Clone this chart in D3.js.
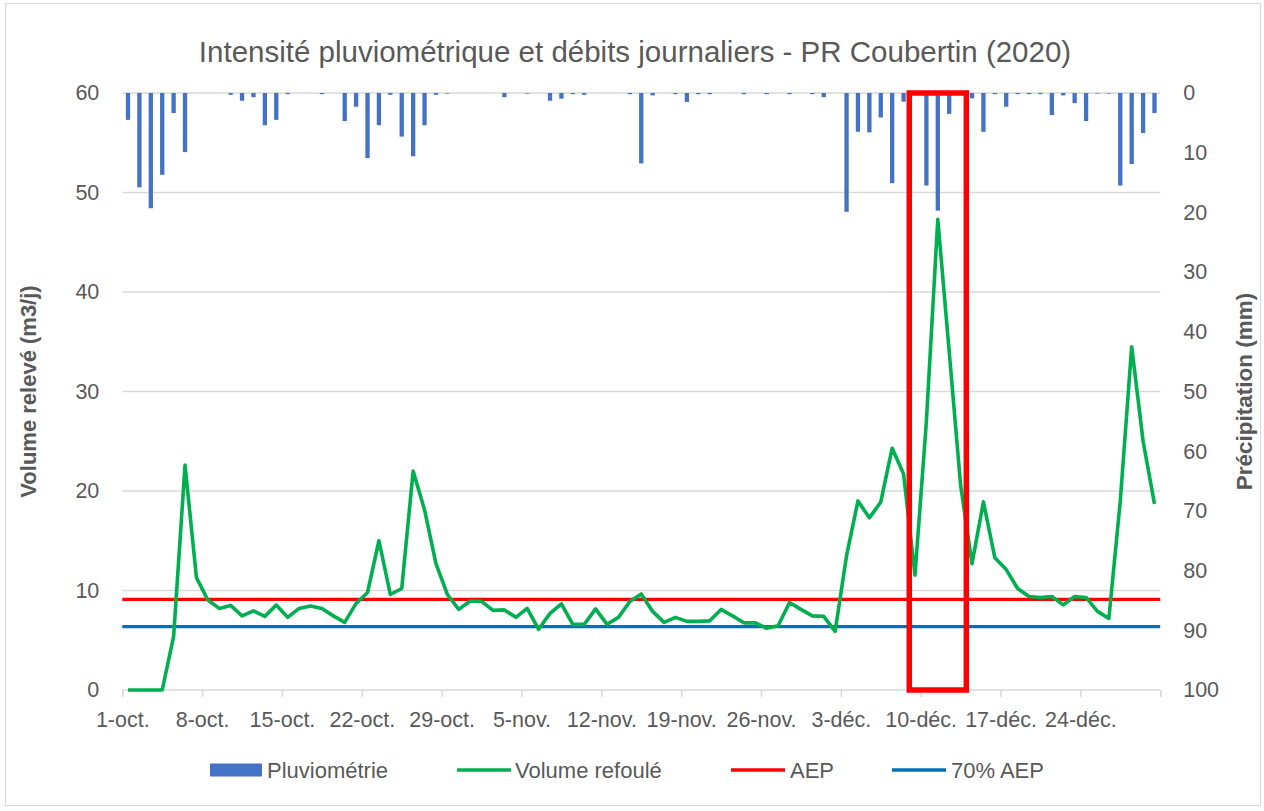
<!DOCTYPE html>
<html><head><meta charset="utf-8">
<script src="https://cdn.jsdelivr.net/npm/d3@7"></script>
<style>
html,body{margin:0;padding:0;background:#fff;}
svg{display:block;font-family:"Liberation Sans",Arial,sans-serif;}
</style></head>
<body><svg id="c" width="1264" height="811"></svg>
<script>
// ---------- DATA ----------
const startDate = "2020-10-01";
const dayCount = 91; // 1-oct. .. 30-déc.
const axisEnd = "2020-12-31";
const rainfall = [4.5,15.8,19.3,13.7,3.35,9.9,0,0,0,0.3,
  1.3,0.7,5.4,4.5,0.2,0,0,0.2,0,4.7,
  2.3,10.9,5.4,0.3,7.3,10.6,5.4,0.3,0.1,0,
  0,0,0,0.7,0,0.1,0,1.3,0.95,0.2,
  0.3,0,0,0,0.2,11.8,0.4,0,0.2,1.5,
  0.2,0.2,0,0,0.2,0,0.2,0,0.2,0,
  0.2,0.7,0,19.9,6.5,6.6,4.1,15.1,1.45,0,
  15.5,19.7,3.5,0,0.9,6.5,0.2,2.3,0.2,0.2,
  0.2,3.7,0.4,1.7,4.7,0.1,0.1,15.5,11.9,6.7,3.35];
const volume = [0,0,0,0,5.4,22.6,11.3,9.05,8.2,8.5,
  7.45,7.95,7.4,8.55,7.3,8.2,8.45,8.2,7.45,6.8,
  8.7,9.8,15.0,9.6,10.2,22.0,18.1,12.7,9.6,8.1,
  8.95,8.9,8.0,8.05,7.3,8.2,6.1,7.7,8.65,6.6,
  6.6,8.15,6.6,7.3,8.9,9.65,7.9,6.8,7.3,6.9,
  6.9,6.95,8.1,7.45,6.75,6.75,6.2,6.45,8.8,8.1,
  7.45,7.4,5.9,13.5,19.0,17.3,18.9,24.3,21.7,11.55,
  27.0,47.3,34.0,20.6,12.7,18.9,13.3,12.1,10.2,9.4,
  9.3,9.4,8.55,9.4,9.3,7.9,7.2,19.0,34.5,25.0,18.7];
const aep = 9.1;
const aep70 = 6.37;
const highlightStart = "2020-12-09";
const highlightEnd = "2020-12-14";
const xTickLabels = ["1-oct.","8-oct.","15-oct.","22-oct.","29-oct.","5-nov.","12-nov.","19-nov.","26-nov.","3-déc.","10-déc.","17-déc.","24-déc."];
const leftTicks = [0,10,20,30,40,50,60];
const rightTicks = [0,10,20,30,40,50,60,70,80,90,100];
const seriesNames = ["Pluviométrie","Volume refoulé","AEP","70% AEP"];
const titleText = "Intensité pluviométrique et débits journaliers - PR Coubertin (2020)";
const leftTitle = "Volume relevé (m3/j)";
const rightTitle = "Précipitation (mm)";

// ---------- LAYOUT ----------
const L = 122.3, R = 1160.2, T = 93, B = 690;
const colors = {bar:"#4472C4", vol:"#00B050", aep:"#FF0000", aep70:"#0070C0", grid:"#D9D9D9", text:"#595959"};
const FONT = "Liberation Sans, Arial, sans-serif";

const parse = d3.utcParse("%Y-%m-%d");
const t0 = parse(startDate);
const dates = d3.utcDay.range(t0, d3.utcDay.offset(t0, dayCount));
const x = d3.scaleUtc().domain([t0, parse(axisEnd)]).range([L, R]);
const xc = d => x(d3.utcHour.offset(d, 12));
const yL = d3.scaleLinear().domain([0, 60]).range([B, T]);
const yR = d3.scaleLinear().domain([0, 100]).range([T, B]);

const svg = d3.select("#c");
svg.append("rect").attr("x",5.5).attr("y",3.5).attr("width",1255).attr("height",802)
  .attr("fill","#fff").attr("stroke","#D9D9D9").attr("stroke-width",1.2);

// title
svg.append("text").attr("x",635).attr("y",62).attr("text-anchor","middle")
  .attr("font-size",29.5).attr("fill",colors.text).text(titleText);

// gridlines
svg.append("g").selectAll("line").data(leftTicks).join("line")
  .attr("x1",L).attr("x2",R).attr("y1",d=>yL(d)).attr("y2",d=>yL(d))
  .attr("stroke",colors.grid).attr("stroke-width",1.5);

// x axis ticks
const tickDates = d3.utcDay.range(t0, d3.utcDay.offset(parse(axisEnd),1), 7).concat([parse(axisEnd)]);
const xAxis = d3.axisBottom(x).tickValues(tickDates).tickSize(7).tickPadding(15)
  .tickFormat((d,i)=> xTickLabels[i] || "");
const gx = svg.append("g").attr("transform",`translate(0,${B})`).call(xAxis);
gx.select(".domain").remove();
gx.selectAll(".tick line").attr("stroke",colors.grid).attr("stroke-width",1.5);
gx.selectAll(".tick text").attr("fill",colors.text).attr("font-size",21.5).attr("font-family",FONT);

// left axis
const gl = svg.append("g").attr("transform",`translate(${L},0)`)
  .call(d3.axisLeft(yL).tickValues(leftTicks).tickSize(0).tickPadding(23));
gl.select(".domain").remove();
gl.selectAll("text").attr("fill",colors.text).attr("font-size",21.5).attr("font-family",FONT);

// right axis
const gr = svg.append("g").attr("transform",`translate(${R},0)`)
  .call(d3.axisRight(yR).tickValues(rightTicks).tickSize(0).tickPadding(23));
gr.select(".domain").remove();
gr.selectAll("text").attr("fill",colors.text).attr("font-size",21.5).attr("font-family",FONT);

// axis titles
svg.append("text").attr("transform",`translate(36,${(T+B)/2}) rotate(-90)`)
  .attr("text-anchor","middle").attr("font-size",22).attr("font-weight","bold")
  .attr("fill",colors.text).text(leftTitle);
svg.append("text").attr("transform",`translate(1252,${(T+B)/2}) rotate(-90)`)
  .attr("text-anchor","middle").attr("font-size",22.5).attr("font-weight","bold")
  .attr("fill",colors.text).text(rightTitle);

// bars (secondary axis, reversed)
const bw = 4.3;
svg.append("g").selectAll("rect").data(dates.map((d,i)=>({d, v: rainfall[i]}))).join("rect")
  .attr("x", o => xc(o.d) - bw/2).attr("width", bw)
  .attr("y", yR(0)).attr("height", o => yR(o.v) - yR(0))
  .attr("fill", colors.bar);

// reference lines (span the full plot width)
const refLine = d3.line()
  .x((o,i)=> i===0 ? x(o.d) : (i===dates.length-1 ? x(d3.utcDay.offset(o.d,1)) : xc(o.d)))
  .y(o=>yL(o.v));
svg.append("path").datum(dates.map(d=>({d, v: aep})))
  .attr("d", refLine).attr("fill","none").attr("stroke",colors.aep).attr("stroke-width",3.2);
svg.append("path").datum(dates.map(d=>({d, v: aep70})))
  .attr("d", refLine).attr("fill","none").attr("stroke",colors.aep70).attr("stroke-width",3.2);

// volume line
const line = d3.line().x(o => xc(o.d)).y(o => yL(o.v));
svg.append("path").datum(dates.map((d,i)=>({d, v: volume[i]})))
  .attr("d", line).attr("fill","none").attr("stroke",colors.vol)
  .attr("stroke-width",3.6).attr("stroke-linejoin","round");

// highlight box
svg.append("rect")
  .attr("x", x(parse(highlightStart))).attr("y", yR(0))
  .attr("width", x(parse(highlightEnd)) - x(parse(highlightStart)))
  .attr("height", yR(100) - yR(0))
  .attr("fill","none").attr("stroke",colors.aep).attr("stroke-width",5.5);

// legend
const lg = svg.append("g").attr("font-size",22).attr("fill",colors.text);
const ly = 770;
lg.append("rect").attr("x",210).attr("y",ly-6.5).attr("width",52).attr("height",13).attr("fill",colors.bar);
lg.append("text").attr("x",267).attr("y",ly+7.5).text(seriesNames[0]);
[[457,colors.vol,515,seriesNames[1]],[731,colors.aep,790,seriesNames[2]],[892,colors.aep70,951,seriesNames[3]]]
  .forEach(([lx,c,tx,name])=>{
    lg.append("line").attr("x1",lx).attr("x2",lx+54).attr("y1",ly).attr("y2",ly)
      .attr("stroke",c).attr("stroke-width",3.4);
    lg.append("text").attr("x",tx).attr("y",ly+7.5).text(name);
  });
</script>
</body></html>
